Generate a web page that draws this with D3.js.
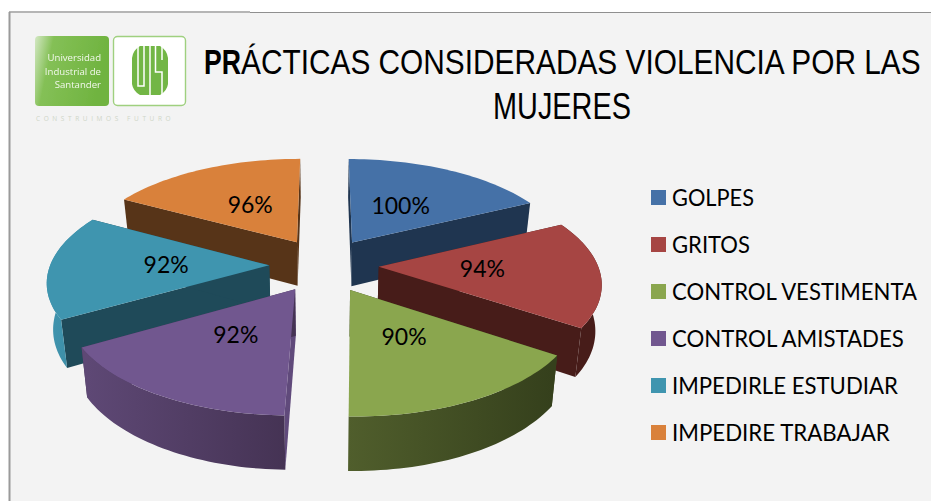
<!DOCTYPE html>
<html><head><meta charset="utf-8">
<script src="https://cdn.jsdelivr.net/npm/d3@7"></script>
<style>html,body{margin:0;padding:0;background:#fff}svg{display:block}</style></head>
<body><svg id="c" width="931" height="501"></svg>
<script>
const categories = ["GOLPES","GRITOS","CONTROL VESTIMENTA","CONTROL AMISTADES","IMPEDIRLE ESTUDIAR","IMPEDIRE TRABAJAR"];
const values = [100,94,90,92,92,96];
const topColors = ["#4571a7","#a64543","#8aa64e","#71578f","#3f95af","#d9813b"];
const faceColors = ["#1f3550","#471c19","#3a451f","#604a7b","#1f4a59","#573418"];
const wallLeft = ["#1f3550","#471c19","#505e2c","#5e4875","#3f93ad","#573418"];
const wallRight = ["#1f3550","#471c19","#35401c","#453354","#3a869e","#573418"];
const legendWidths = [82,78,245,232,226,218];
const drawOrder = [5,0,4,1,3,2];

const svg = d3.select("#c");
const font = "Lato, 'Open Sans', sans-serif";
const titleFont = "'Liberation Sans',sans-serif";
/* horizontally fit a text to a width by scaling it */
const fit = (x,y,w,str,size,family,weight) => {
  const t = svg.append("text").attr("font-family",family).attr("font-size",size)
    .attr("font-weight",weight||"normal").attr("fill","#000").text(str);
  const len = t.node().getComputedTextLength();
  t.attr("transform",`translate(${x},${y}) scale(${w/len},1)`);
  return t;
};
svg.append("rect").attr("width",931).attr("height",501).attr("fill","#fff");
svg.append("rect").attr("x",10).attr("y",13).attr("width",921).attr("height",488).attr("fill","#f3f3f3");
svg.append("line").attr("x1",9).attr("x2",931).attr("y1",12.5).attr("y2",12.5).attr("stroke","#8f8f8f");
svg.append("line").attr("x1",9).attr("x2",250).attr("y1",12).attr("y2",12).attr("stroke","#b5b5b5").attr("stroke-width",2);
svg.append("line").attr("x1",9.5).attr("x2",9.5).attr("y1",12).attr("y2",501).attr("stroke","#9a9a9a").attr("stroke-width",2);

const defs = svg.append("defs");
defs.append("filter").attr("id","soft").append("feGaussianBlur").attr("stdDeviation",0.5);

/* logo */
const lg = defs.append("linearGradient").attr("id","lg").attr("x1",0).attr("x2",1).attr("y1",0).attr("y2",0.2);
lg.append("stop").attr("offset",0).attr("stop-color","#d4e8c4");
lg.append("stop").attr("offset",0.25).attr("stop-color","#84c056");
lg.append("stop").attr("offset",1).attr("stop-color","#6fb33f");
const logo = svg.append("g").attr("filter","url(#soft)");
logo.append("rect").attr("x",35).attr("y",36).attr("width",74).attr("height",70).attr("rx",4).attr("fill","url(#lg)");
logo.append("rect").attr("x",113.5).attr("y",36.5).attr("width",72).attr("height",69).attr("rx",4).attr("fill","#fff").attr("stroke","#9fd07f").attr("stroke-width",1.4);
logo.append("path").attr("d","M132 58 Q133 50 140 46 H160 Q167 50 168 58 V84 Q167 91 160 95 H140 Q133 91 132 84 Z").attr("fill","#72b644");
["M138 46V86H144V46","M150 46V95","M155.5 46V72H162V95","M162 46V60"].forEach(d=>
  logo.append("path").attr("d",d).attr("fill","none").attr("stroke","#fff").attr("stroke-width",1.5));
[["Universidad",61],["Industrial de",75],["Santander",88]].forEach(t=>
  logo.append("text").attr("x",101).attr("y",t[1]).attr("text-anchor","end").attr("font-family","'Open Sans',sans-serif").attr("font-size",9.6).attr("fill","#f2f8ec").text(t[0]));
svg.append("text").attr("x",36).attr("y",121).attr("font-family","'Open Sans',sans-serif").attr("font-size",6.5)
  .attr("fill","#cfd6c8").attr("letter-spacing",3.6).text("CONSTRUIMOS FUTURO");

/* title */
fit(204,74,37,"PR",36,titleFont,"bold");
fit(241,74,680,"ÁCTICAS CONSIDERADAS VIOLENCIA POR LAS",36,titleFont);
fit(493,119,138,"MUJERES",36,titleFont);

/* 3D exploded pie */
const explode = 0.27, explodeX = 0.25, persp = 0.14, depth = 45, bottomShrink = 0.977;
const sx = d3.scaleLinear().domain([-1,1]).range([324-219,324+219]);
const sy = d3.scaleLinear().domain([-1,1]).range([265+101,265-101]);
const arcs = d3.pie().sort(null).value(d=>d)(values);
const pr = (u,v,lvl) => {
  const w = 1+persp*v;
  const x = sx(u/w), y = sy(v/w);
  return lvl ? [sx(bottomShrink*u/w), y+depth/w] : [x,y];
};
const at = (m,a,r) => [explodeX*Math.sin(m)+r*Math.sin(a), explode*Math.cos(m)+r*Math.cos(a)];
const line = d3.line();
drawOrder.forEach(i=>{
  const s = arcs[i], m = (s.startAngle+s.endAngle)/2;
  const g = svg.append("g");
  const angs = d3.range(0,41).map(k=>s.startAngle+(s.endAngle-s.startAngle)*k/40);
  const apex = at(m,0,0);
  const rim = angs.map(a=>at(m,a,1));
  const topPts = [apex,...rim].map(p=>pr(p[0],p[1],0));
  const wallTop = rim.map(p=>pr(p[0],p[1],0));
  const wallBot = rim.map(p=>pr(p[0],p[1],1));
  const face = e => [pr(apex[0],apex[1],0),pr(e[0],e[1],0),pr(e[0],e[1],1),pr(apex[0],apex[1],1)];
  g.append("path").attr("d",line(face(rim[0]))+"Z").attr("fill",faceColors[i]);
  g.append("path").attr("d",line(face(rim[40]))+"Z").attr("fill",i===3?"#453354":faceColors[i]);
  if(Math.cos(m)<0.3){
    const id="w"+i, xs=wallBot.map(p=>p[0]);
    const gr=defs.append("linearGradient").attr("id",id).attr("gradientUnits","userSpaceOnUse")
      .attr("x1",d3.min(xs)).attr("x2",d3.max(xs)).attr("y1",0).attr("y2",0);
    gr.append("stop").attr("offset",0).attr("stop-color",wallLeft[i]);
    gr.append("stop").attr("offset",1).attr("stop-color",wallRight[i]);
    g.append("path").attr("d",line([...wallTop,...wallBot.reverse()])+"Z").attr("fill","url(#"+id+")");
  }
  g.append("path").attr("d",line(topPts)+"Z").attr("fill",topColors[i]);
});
/* data labels on top of every slice */
drawOrder.forEach(i=>{
  const s = arcs[i], m = (s.startAngle+s.endAngle)/2;
  const c = at(m,m,0.47), p = pr(c[0],c[1],0);
  svg.append("text").attr("x",p[0]).attr("y",p[1]+7).attr("text-anchor","middle").attr("font-family",font)
    .attr("font-size",23).attr("fill","#000").text(values[i]+"%");
});

/* legend */
const ly = d3.scalePoint().domain(categories).range([197.5,432.5]);
svg.append("g").selectAll("rect").data(categories).join("rect")
  .attr("x",651).attr("y",d=>ly(d)-7.5).attr("width",15).attr("height",15).attr("fill",(d,i)=>topColors[i]);
categories.forEach((d,i)=>fit(672,ly(d)+8.5,legendWidths[i],d,24,font));
</script></body></html>
